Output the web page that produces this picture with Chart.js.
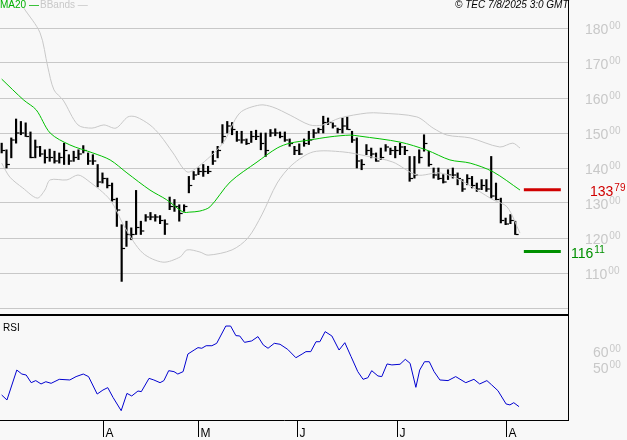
<!DOCTYPE html>
<html lang="en">
<head>
<meta charset="UTF-8">
<title>Price chart</title>
<script src="https://cdn.jsdelivr.net/npm/chart.js"></script>
<style>
  body { margin: 0; background: #f8f8f8; width: 627px; height: 440px; overflow: hidden; position: relative; font-family: "Liberation Sans", Arial, sans-serif; }
  .box { position: absolute; left: 0; width: 627px; }
  #top { top: 0; height: 316px; }
  #bot { top: 315px; height: 125px; }
  .leg { position: absolute; top: -1px; font-size: 10px; }
</style>
</head>
<body>
<div class="box" id="top"><canvas id="priceChart"></canvas></div>
<div class="box" id="bot"><canvas id="rsiChart"></canvas></div>
<div class="leg" style="left:0;color:#00b000">MA20 —</div>
<div class="leg" style="left:40px;color:#c8c8c8">BBands —</div>
<div class="leg" style="left:455px;color:#000;font-style:italic">© TEC 7/8/2025 3:0 GMT</div>

<script>
// daily bars (index = trading day)
const highs = [147.1,145.2,148.6,154,153.3,152.9,150.3,148,146.2,145.2,145.4,144.8,144.3,147.1,143.8,144.8,145.2,146.4,144.3,143.8,
  141,138.6,137.1,135.7,131.4,123.8,124.8,122.9,133.6,124.8,126.7,127.3,126.7,126.4,125.2,131.7,131,129.5,129.5,137.6,
  139,140,141,140.5,144.8,146.2,152.4,153.3,153,150.5,150.5,148.3,150.5,150.8,150,150,151,151.2,150.3,150.3,
  148.3,146.2,146.9,148.3,150.5,151,151.4,154.8,154.3,152.9,151.4,154.3,154.6,150.5,148.6,142.4,146.7,145.7,144.3,145.7,
  146.7,145.7,146.2,147.1,146.2,143.3,143.3,145.2,149.5,144.8,140,140,138.1,139.5,140,138.6,136.7,138.1,137.6,135.7,
  136.7,136.7,143.3,135.7,131.4,125.7,126.7,124.8];
const lows = [144.3,140,142.9,147.1,149.5,149,142.9,142.9,143.3,141.4,141.9,141.4,141.4,141,141,141.9,142.4,144.3,141,141,
  134.6,135.7,134.3,130.5,123.3,107.6,117.6,119.5,121,121,124.8,125.2,124.8,124.1,121,128.1,127.6,124.8,127.6,132.9,
  136.7,138.1,137.6,138.4,141,142.9,147.1,150,149.5,147.6,147.1,146.7,147.3,148.1,145.2,143.3,149,149.2,148.6,147.6,
  146.2,143.8,143.8,146.2,146.7,148.6,150,150,152.4,151.4,150,150,151,147.3,140,139.5,143.8,142.9,141.9,142.4,
  144.8,143.8,142.9,143.8,143.8,136.2,137.1,141.4,144.8,140.5,137.1,136.7,135.7,136.7,137.1,135.2,133.3,135.2,134.3,133.3,
  133.8,133.3,131.4,130.9,124.3,123.8,124.1,121];
const closes = [145,141,148,150,150,149,143,146,144,143,143,142,143,145,142,143,144,145,142,142,
  136,137,135,131,128,117,121,121,123,122,126,126,126,125,124,129,129,127,129,135,
  138,139,139,139,142,145,149,152,151,148,148,147,149,149,147,145,150,150,149,148,
  147,145,144,147,148,150,151,153,153,152,151,152,151,148,142,141,145,144,142,143,
  146,145,145,146,145,137,138,143,147,141,138,137,136,138,138,137,134,137,135,134,
  135,134,132,131,125,124,125,121];

const maIdx = [0,4.6,7.2,10.1,14.2,19,22.6,26.1,30.9,34.4,37.8,39.2,41.3,43.4,47.6,53.2,57.4,60.1,64.2,68.4,72.6,74.6,83,88.6,93.4,97.6,102.4,108];
const maVal = [165.4,159.4,156.6,150,146.6,144.3,142.3,138.6,133.7,130.9,127.4,127.4,127.7,128.9,136,141.7,145.7,147.1,148,148.9,149.4,149.1,147.4,145.1,142.3,141.4,138.9,133.7];

const upIdx = [4.6,8,9.6,10.9,12.8,15.9,18.8,21.3,23.8,26.3,28,30.9,33,35.7,38.6,40.9,46.1,49.6,53.8,56.5,60.1,64.2,66.9,70.5,76.1,78.8,86.5,89.9,92.8,97.6,103.8,106.5,108];
const upVal = [185.7,178.6,168.9,162.3,159.4,152.3,151.4,152.3,151.4,154.6,154.6,152.3,149.4,144.3,138.9,140.3,147.1,155.7,158,157.4,155.1,152.3,152.3,154.3,155.7,155.7,154.6,151.4,149.4,148.6,146,147.1,145.7];
const loIdx = [0,1.7,4.4,7.4,9,10.1,13.6,15.9,17.8,22.6,25.7,29.4,33.6,37.2,38.6,41.3,43,48,51.3,54.2,57.4,60.5,64.9,71.1,76.1,81.5,86.5,91.3,95.5,102.4,105.3,108];
const loVal = [141.4,137.4,134.3,131.4,133.7,136.6,136.6,138,136.6,130.9,122.9,115.7,113.1,114.6,116.6,116,115.1,116.6,120,126.6,135.7,140.9,144.6,144.6,143.4,141.7,138,138.6,136.6,130.9,128.9,121.4];

const rsiIdx = [0,1.1,3.15,4.2,5.1,6.15,7.1,8.2,9.2,10.3,12,14.2,15.5,17,18.1,19.9,21.1,22.1,23.2,24.9,26.1,27.1,28.4,29.1,30.7,31.7,33,33.8,34.8,35.9,36.7,37.8,38.8,40.1,40.9,41.7,42.6,43.8,44.8,46.7,47.7,48.8,49.6,50.6,52.1,53.4,54.5,55.5,56.8,58,59.6,61.3,62.6,63.4,64.4,65.5,66.3,67.4,68.8,70.3,71.5,72.8,74.2,75.3,76.3,77.1,78.4,79.2,80.3,81.3,83,84.1,85.1,86.3,87.1,88.1,89.1,90.1,91.3,93,94.6,96.7,98.4,99.6,101.1,102.1,103.4,105.1,105.9,106.7,107.8];
const rsiVal = [32.5,29.4,48.1,45.6,45,40.2,41.5,39.4,40.8,39.8,42.3,41.9,44,45.6,44,33.1,35.6,37.1,31,22.7,33.5,31.9,35,34.6,42.9,41.9,40.2,41.5,47.7,47.1,45.6,47.1,58.1,60.6,62.1,61.7,63.3,63.3,64.8,75.6,75.6,69.6,69.4,65.4,66.3,69,63.8,61.7,64.8,64.2,61,55.8,58.1,59.6,59.6,65.8,65.8,72.1,69.4,60.6,65.2,56.5,47.1,42.3,43.3,47.7,44.4,44,51.9,51.3,51.7,54.8,52.3,37.3,48.1,53.3,53.3,47.1,41.9,41.5,44,40.2,42.3,39.4,41.5,38.8,35.2,26.9,26.3,27.7,25.2];

const priceTicks = [180,170,160,150,140,130,120,110];
const gridLevels = [100,110,120,130,140,150,160,170,180];
const rsiTicks = [60,50];
const monthIdx = [21.1,40.9,61.5,82.3,105.1];
const monthLbl = ['A','M','J','J','A'];
const resistance = 133.79, support = 116.11;

const xMin = -0.35, xMax = 118;

function supText(ctx, whole, frac, x, y, color) {
  ctx.fillStyle = color;
  ctx.textBaseline = 'alphabetic';
  ctx.textAlign = 'left';
  ctx.font = '14px "Liberation Sans", Arial, sans-serif';
  ctx.fillText(whole, x, y + 6);
  const w = ctx.measureText(whole).width;
  ctx.font = '10px "Liberation Sans", Arial, sans-serif';
  ctx.fillText(frac, x + w + 1, y + 1);
}

const priceLabels = {
  id: 'priceLabels',
  afterDraw(chart) {
    const ctx = chart.ctx, ys = chart.scales.y;
    ctx.save();
    priceTicks.forEach(v => supText(ctx, String(v), '00', 585, ys.getPixelForValue(v), '#c8c8c8'));
    supText(ctx, '133', '79', 590, ys.getPixelForValue(resistance), '#d00000');
    supText(ctx, '116', '11', 571, ys.getPixelForValue(support), '#009000');
    ctx.restore();
  }
};

const bars = closes.map((c, i) => ({ x: i, y: [lows[i], highs[i]] }));

new Chart(document.getElementById('priceChart'), {
  data: {
    datasets: [
      { type: 'line', data: upIdx.map((x, i) => ({ x, y: upVal[i] })), borderColor: '#c8c8c8', borderWidth: 1, pointRadius: 0, tension: 0.3 },
      { type: 'line', data: loIdx.map((x, i) => ({ x, y: loVal[i] })), borderColor: '#c8c8c8', borderWidth: 1, pointRadius: 0, tension: 0.3 },
      { type: 'line', data: maIdx.map((x, i) => ({ x, y: maVal[i] })), borderColor: '#00c000', borderWidth: 1, pointRadius: 0, tension: 0.3 },
      { type: 'bar', data: bars, backgroundColor: '#000', barThickness: 1.5, grouped: false },
      { type: 'scatter', data: closes.map((c, i) => ({ x: i + 0.4, y: c })), pointStyle: 'line', radius: 1.5, borderColor: '#000', borderWidth: 1.2 },
      { type: 'line', data: [{ x: 108.8, y: resistance }, { x: 116.5, y: resistance }], borderColor: '#d00000', borderWidth: 3, pointRadius: 0 },
      { type: 'line', data: [{ x: 108.8, y: support }, { x: 116.5, y: support }], borderColor: '#009000', borderWidth: 3, pointRadius: 0 }
    ]
  },
  options: {
    responsive: true, maintainAspectRatio: false, animation: false,
    layout: { padding: 0, autoPadding: false },
    plugins: { legend: { display: false }, tooltip: { enabled: false } },
    scales: {
      x: {
        type: 'linear', min: xMin, max: xMax, offset: false,
        ticks: { display: false }, grid: { display: false, drawTicks: false },
        border: { color: '#000', width: 3 },
        afterFit: s => { s.height = 1; }
      },
      y: {
        position: 'right', min: 98, max: 188,
        afterBuildTicks: s => { s.ticks = gridLevels.map(v => ({ value: v })); },
        ticks: { display: false },
        grid: { color: '#c8c8c8', drawTicks: false },
        border: { color: '#000', width: 1 },
        afterFit: s => { s.width = 59; }
      }
    }
  },
  plugins: [priceLabels]
});

const rsiLabels = {
  id: 'rsiLabels',
  afterDraw(chart) {
    const ctx = chart.ctx, ys = chart.scales.y, xs = chart.scales.x, b = chart.chartArea.bottom;
    ctx.save();
    rsiTicks.forEach(v => supText(ctx, String(v), '00', 593, ys.getPixelForValue(v), '#c8c8c8'));
    ctx.strokeStyle = '#000'; ctx.lineWidth = 1; ctx.fillStyle = '#000';
    ctx.font = '12px "Liberation Sans", Arial, sans-serif';
    ctx.textBaseline = 'alphabetic'; ctx.textAlign = 'left';
    monthIdx.forEach((m, i) => {
      const x = Math.round(xs.getPixelForValue(m)) + 0.5;
      ctx.beginPath(); ctx.moveTo(x, b); ctx.lineTo(x, b + 17); ctx.stroke();
      ctx.fillText(monthLbl[i], x + 2, b + 17);
    });
    ctx.font = '10px "Liberation Sans", Arial, sans-serif';
    ctx.fillText('RSI', 3, 16);
    ctx.restore();
  }
};

new Chart(document.getElementById('rsiChart'), {
  type: 'line',
  data: {
    datasets: [{ data: rsiIdx.map((x, i) => ({ x, y: rsiVal[i] })), borderColor: '#0000d0', borderWidth: 1, pointRadius: 0 }]
  },
  options: {
    responsive: true, maintainAspectRatio: false, animation: false,
    layout: { padding: 0, autoPadding: false },
    plugins: { legend: { display: false }, tooltip: { enabled: false } },
    scales: {
      x: {
        type: 'linear', min: xMin, max: xMax,
        ticks: { display: false }, grid: { display: false, drawTicks: false },
        border: { color: '#000', width: 1 },
        afterFit: s => { s.height = 20; }
      },
      y: {
        position: 'right', min: 16.875, max: 82.5,
        ticks: { display: false }, grid: { display: false, drawTicks: false },
        border: { color: '#000', width: 1 },
        afterFit: s => { s.width = 59; }
      }
    }
  },
  plugins: [rsiLabels]
});
</script>
</body>
</html>
